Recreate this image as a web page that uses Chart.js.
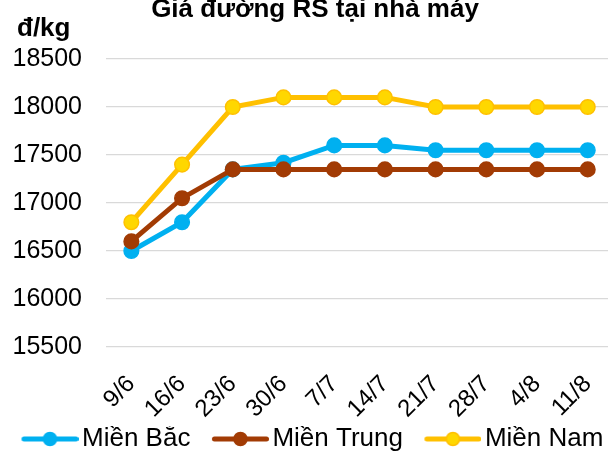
<!DOCTYPE html>
<html>
<head>
<meta charset="utf-8">
<script src="https://cdn.jsdelivr.net/npm/chart.js@4/dist/chart.umd.min.js"></script>
<style>
  html, body { margin: 0; padding: 0; background: #fff; }
  #wrap { width: 608px; height: 452px; }
</style>
</head>
<body>
<div id="wrap"><canvas id="c" width="608" height="452"></canvas></div>
<script>
const labels = ['9/6', '16/6', '23/6', '30/6', '7/7', '14/7', '21/7', '28/7', '4/8', '11/8']
const mienBac = [16500, 16800, 17350, 17420, 17600, 17600, 17550, 17550, 17550, 17550]
const mienTrung = [16600, 17050, 17350, 17350, 17350, 17350, 17350, 17350, 17350, 17350]
const mienNam = [16800, 17400, 18000, 18100, 18100, 18100, 18000, 18000, 18000, 18000]
const yTicks = [15500, 16000, 16500, 17000, 17500, 18000, 18500]

const FONT = "'Liberation Sans', Arial, sans-serif"

function toPoints(values){
    return values.map(function(v, i){ return {x: i, y: v} })
}

// legend box is BOX_W wide, the icon canvas is centred on it
const BOX_W = 69
const ICON_W = 88
function legendIcon(line, fill){
    const cv = document.createElement('canvas')
    cv.width = ICON_W
    cv.height = 16
    const ctx = cv.getContext('2d')
    const x0 = ICON_W / 2 - BOX_W / 2 + 22
    const x1 = x0 + 56
    ctx.strokeStyle = line
    ctx.lineWidth = 5
    ctx.lineCap = 'round'
    ctx.beginPath()
    ctx.moveTo(x0 + 2, 8)
    ctx.lineTo(x1 - 2, 8)
    ctx.stroke()
    ctx.fillStyle = fill
    ctx.beginPath()
    ctx.arc((x0 + x1) / 2, 8, 6.5, 0, Math.PI * 2)
    ctx.fill()
    ctx.lineWidth = 1.5
    ctx.stroke()
    return cv
}

const series = [
    {label: 'Miền Bắc', data: mienBac, line: '#00B0F0', fill: '#00B0F0', order: 3},
    {label: 'Miền Trung', data: mienTrung, line: '#A23B04', fill: '#A23B04', order: 2},
    {label: 'Miền Nam', data: mienNam, line: '#FFC000', fill: '#FFD700', order: 1}
]

const titles = {
    id: 'titles',
    afterDraw(chart){
        const ctx = chart.ctx
        ctx.save()
        ctx.fillStyle = '#000'
        ctx.textBaseline = 'alphabetic'
        ctx.font = 'bold 26px ' + FONT
        ctx.textAlign = 'center'
        ctx.fillText('Giá đường RS tại nhà máy', 315, 17)
        ctx.textAlign = 'left'
        ctx.fillText('đ/kg', 17, 36)
        ctx.restore()
    }
}

new Chart(document.getElementById('c'), {
    type: 'line',
    data: {
        datasets: series.map(function(s){
            return {
                label: s.label,
                data: toPoints(s.data),
                borderColor: s.line,
                backgroundColor: s.fill,
                pointBackgroundColor: s.fill,
                pointBorderColor: s.line,
                pointBorderWidth: 1.5,
                pointRadius: 7.3,
                borderWidth: 5,
                tension: 0,
                order: s.order
            }
        })
    },
    options: {
        responsive: false,
        animation: false,
        events: [],
        layout: {autoPadding: false, padding: {top: 59, right: 0, left: 0, bottom: 0}},
        plugins: {
            tooltip: {enabled: false},
            title: {display: false},
            legend: {
                position: 'bottom',
                align: 'start',
                maxHeight: 26,
                labels: {
                    usePointStyle: true,
                    pointStyleWidth: BOX_W,
                    padding: 0,
                    color: '#000',
                    font: {family: FONT, size: 26},
                    generateLabels(chart){
                        return series.map(function(s, i){
                            return {
                                text: s.label,
                                datasetIndex: i,
                                pointStyle: legendIcon(s.line, s.fill),
                                fillStyle: s.fill,
                                strokeStyle: s.line,
                                lineWidth: 0,
                                hidden: false,
                                fontColor: '#000'
                            }
                        })
                    }
                }
            }
        },
        scales: {
            x: {
                type: 'linear',
                min: -0.5,
                max: 9.4,
                grid: {display: false},
                border: {display: false},
                afterBuildTicks(scale){
                    scale.ticks = labels.map(function(l, i){ return {value: i} })
                },
                afterFit(scale){
                    scale.paddingLeft = 0
                    scale.paddingRight = 0
                    scale.height = 79
                },
                ticks: {
                    minRotation: 45,
                    maxRotation: 45,
                    padding: 15,
                    color: '#000',
                    font: {family: FONT, size: 24},
                    callback: function(v){ return labels[v] }
                }
            },
            y: {
                min: 15500,
                max: 18500,
                afterBuildTicks(scale){
                    scale.ticks = yTicks.map(function(v){ return {value: v} })
                },
                afterFit(scale){ scale.width = 106 },
                grid: {color: '#D9D9D9', lineWidth: 1.3, drawTicks: false},
                border: {display: false},
                ticks: {
                    padding: 24,
                    color: '#000',
                    font: {family: FONT, size: 25},
                    callback: function(v){ return String(v) }
                }
            }
        }
    },
    plugins: [titles]
})
</script>
</body>
</html>
